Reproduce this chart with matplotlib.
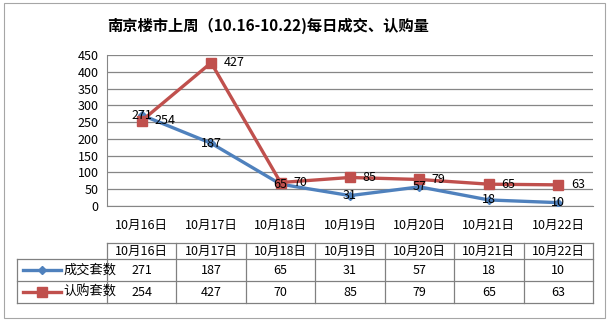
import matplotlib.pyplot as plt
from matplotlib.patches import Rectangle
from matplotlib.lines import Line2D

plt.rcParams['font.family'] = ['Noto Sans CJK SC', 'DejaVu Sans']

days = ['10月16日', '10月17日', '10月18日', '10月19日', '10月20日', '10月21日', '10月22日']
deals = [271, 187, 65, 31, 57, 18, 10]
subs = [254, 427, 70, 85, 79, 65, 63]
series_names = ['成交套数', '认购套数']
title = '南京楼市上周（10.16-10.22)每日成交、认购量'

blue = '#4F81BD'
red = '#C0504D'
grid_c = '#868686'

W, H = 610, 320
fig = plt.figure(figsize=(W / 100, H / 100), dpi=100)

# chart frame
fig.add_artist(Rectangle((4 / W, 2 / H), 601 / W, 315 / H, transform=fig.transFigure,
                         fill=False, ec='#A6A6A6', lw=0.8))
fig.text(268 / W, 1 - 26 / H, title, ha='center', va='center', fontsize=11, fontweight='bold')

# plot area
px0, px1, py0, py1 = 107, 593, 55, 206
ax = fig.add_axes([px0 / W, 1 - py1 / H, (px1 - px0) / W, (py1 - py0) / H])
x = list(range(len(days)))
ax.plot(x, deals, color=blue, lw=2.4, marker='D', ms=4, mfc=blue, mec=blue, zorder=3)
ax.plot(x, subs, color=red, lw=2.4, marker='s', ms=7.5, mfc=red, mec=red, zorder=4)
for i in x:
    ax.annotate(str(deals[i]), (i, deals[i]), ha='center', va='center', fontsize=9, zorder=5)
    ax.annotate(str(subs[i]), (i, subs[i]), xytext=(9, 0), textcoords='offset points',
                ha='left', va='center', fontsize=9, zorder=5)
ax.set_xlim(-0.5, len(days) - 0.5)
ax.set_ylim(0, 450)
ax.set_yticks(range(0, 451, 50))
ax.set_xticks(x)
ax.set_xticklabels(days)
ax.grid(axis='y', color=grid_c, lw=0.9)
ax.set_axisbelow(True)
for s in ['top', 'right']:
    ax.spines[s].set_visible(False)
ax.spines['left'].set_color(grid_c)
ax.spines['bottom'].set_color(grid_c)
ax.tick_params(axis='both', length=0, labelsize=9, pad=6)
ax.tick_params(axis='x', pad=9)

# data table
tx0, ty0, ty1 = 17, 243, 303
col_w = (px1 - px0) / len(days)
leg_w = (px0 - tx0) / col_w
tb = fig.add_axes([tx0 / W, 1 - ty1 / H, (px1 - tx0) / W, (ty1 - ty0) / H])
tb.set_xlim(-0.5 - leg_w, len(days) - 0.5)
tb.set_ylim(60, 0)
tb.axis('off')
rows = [0, 16, 38, 60]
lc = '#808080'
left = -0.5 - leg_w
right = len(days) - 0.5
tb.plot([-0.5, right], [0, 0], color=lc, lw=0.9, clip_on=False)
for r in rows[1:]:
    tb.plot([left, right], [r, r], color=lc, lw=0.9, clip_on=False)
tb.plot([left, left], [16, 60], color=lc, lw=0.9, clip_on=False)
for k in range(len(days) + 1):
    tb.plot([k - 0.5, k - 0.5], [0, 60], color=lc, lw=0.9, clip_on=False)
for i, d in enumerate(days):
    tb.text(i, 8, d, ha='center', va='center', fontsize=9)
    tb.text(i, 27, str(deals[i]), ha='center', va='center', fontsize=9)
    tb.text(i, 49, str(subs[i]), ha='center', va='center', fontsize=9)

for (yc, name, c, m, ms) in [(27, series_names[0], blue, 'D', 4), (49, series_names[1], red, 's', 6.5)]:
    x0 = left + 0.08
    x1 = left + 0.08 + 0.55
    tb.add_line(Line2D([x0, x1], [yc, yc], color=c, lw=2.4))
    tb.plot([(x0 + x1) / 2], [yc], marker=m, ms=ms, color=c)
    tb.text(x1 + 0.04, yc, name, ha='left', va='center', fontsize=9.5)

fig.savefig('out.png', dpi=100)
